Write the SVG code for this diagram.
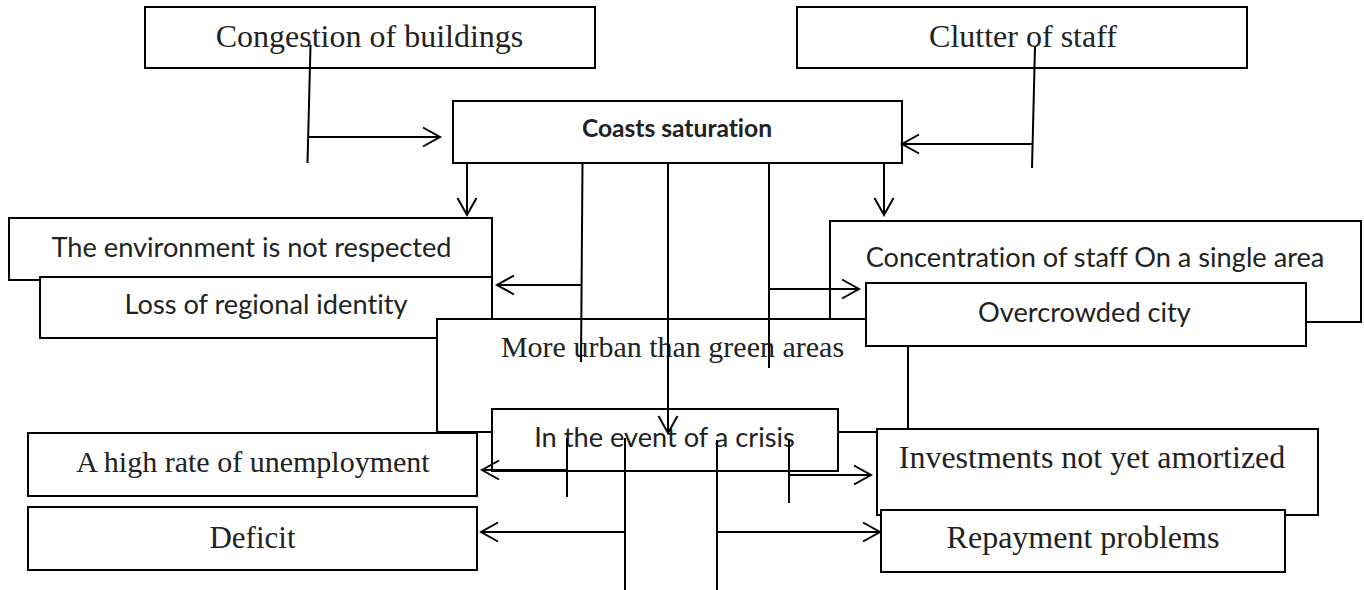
<svg xmlns="http://www.w3.org/2000/svg" width="1364" height="590" viewBox="0 0 1364 590">
<style>
.box{fill:#fff;stroke:#000;stroke-width:2}
.serif{font-family:"Liberation Serif","Times New Roman",serif;fill:#222;text-anchor:middle}
.sans{font-family:Lato,"Liberation Sans",sans-serif;fill:#222;text-anchor:middle;font-variant-ligatures:none;font-size:27.2px}
.ln{stroke:#000;stroke-width:2;fill:none}
.ar{stroke:#000;stroke-width:2;fill:none;marker-end:url(#arr)}
</style>
<defs>
<marker id="arr" markerUnits="userSpaceOnUse" markerWidth="22" markerHeight="24" viewBox="-20 -12 22 24" refX="0" refY="0" orient="auto" overflow="visible">
<path d="M-17,-9.5 L0,0 L-17,9.5" fill="none" stroke="#000" stroke-width="2"/>
</marker>
</defs>
<g id="congestion"><rect class="box" x="145" y="7" width="450" height="61"/><text class="serif" x="369.5" y="47" font-size="32">Congestion of buildings</text></g>
<g id="clutter"><rect class="box" x="797" y="7" width="450" height="61"/><text class="serif" x="1023" y="47" font-size="32">Clutter of staff</text></g>
<g id="coasts"><rect class="box" x="453" y="101" width="449" height="62"/><text class="sans" x="677" y="137" style="font-size:24.6px" font-weight="bold">Coasts saturation</text></g>
<g id="environment"><rect class="box" x="9" y="218" width="483" height="62"/><text class="sans" x="251.5" y="257">The environment is not respected</text></g>
<g id="loss"><rect class="box" x="40" y="277" width="452" height="61"/><text class="sans" x="266" y="314">Loss of regional identity</text></g>
<g id="concentration"><rect class="box" x="830" y="221" width="531" height="101"/><text class="sans" x="1095" y="267">Concentration of staff On a single area</text></g>
<g id="moreurban"><rect class="box" x="437" y="319" width="471" height="113"/><text class="serif" x="672.5" y="357" font-size="30">More urban than green areas</text></g>
<g id="overcrowded"><rect class="box" x="866" y="283" width="440" height="63"/><text class="sans" x="1084.5" y="322">Overcrowded city</text></g>
<g id="crisis"><rect class="box" x="492" y="409" width="346" height="62"/><text class="sans" x="664.5" y="447">In the event of a crisis</text></g>
<g id="unemployment"><rect class="box" x="28" y="433" width="449" height="63"/><text class="serif" x="253" y="472" font-size="30">A high rate of unemployment</text></g>
<g id="investments"><rect class="box" x="877" y="429" width="441" height="86"/><text class="serif" x="1092" y="468" font-size="32">Investments not yet amortized</text></g>
<g id="deficit"><rect class="box" x="28" y="507" width="449" height="63"/><text class="serif" x="252.5" y="548" font-size="31">Deficit</text></g>
<g id="repayment"><rect class="box" x="881" y="510" width="404" height="62"/><text class="serif" x="1083" y="548" font-size="32">Repayment problems</text></g>
<g id="connectors">
<line class="ln" x1="310.5" y1="45" x2="307.5" y2="163"/>
<line class="ar" x1="308" y1="137" x2="440" y2="137"/>
<line class="ln" x1="1035" y1="47" x2="1032" y2="168"/>
<line class="ar" x1="1033" y1="144" x2="902" y2="144"/>
<line class="ar" x1="467" y1="163" x2="467" y2="215"/>
<line class="ar" x1="884" y1="163" x2="884" y2="215"/>
<line class="ln" x1="582.5" y1="163" x2="581" y2="362"/>
<line class="ar" x1="582" y1="285" x2="497" y2="285"/>
<line class="ar" x1="668" y1="163" x2="668" y2="433"/>
<line class="ln" x1="769" y1="163" x2="769" y2="368"/>
<line class="ar" x1="769" y1="289" x2="859" y2="289"/>
<line class="ln" x1="567" y1="438" x2="567" y2="497"/>
<line class="ar" x1="567" y1="470" x2="482" y2="470"/>
<line class="ln" x1="625" y1="438" x2="625" y2="590"/>
<line class="ar" x1="625" y1="532" x2="481" y2="532"/>
<line class="ln" x1="717" y1="440" x2="717" y2="590"/>
<line class="ar" x1="717" y1="532" x2="880" y2="532"/>
<line class="ln" x1="789" y1="440" x2="789" y2="503"/>
<line class="ar" x1="789" y1="475" x2="871" y2="475"/>
</g>
</svg>
